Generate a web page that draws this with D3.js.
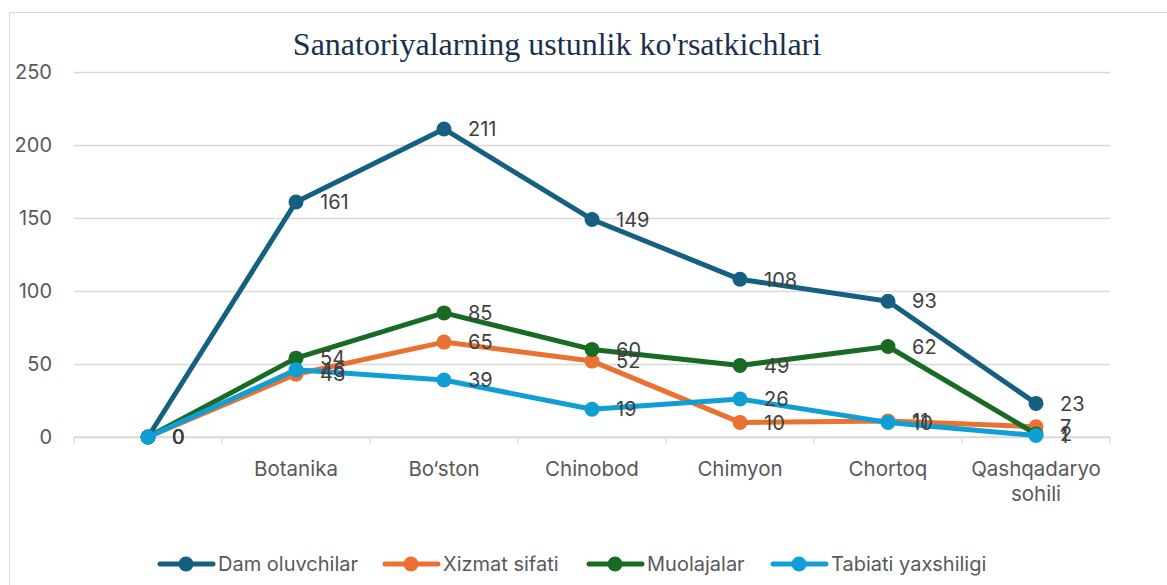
<!DOCTYPE html>
<html>
<head>
<meta charset="utf-8">
<script src="https://cdn.jsdelivr.net/npm/d3@7"></script>
<style>
  body { margin: 0; background: #fff; }
  text { font-family: Inter, "Noto Sans", sans-serif; }
</style>
</head>
<body>
<div id="chart"></div>
<script>
const categories = ["", "Botanika", "Bo‘ston", "Chinobod", "Chimyon", "Chortoq", "Qashqadaryo sohili"];
const seriesNames = ["Dam oluvchilar", "Xizmat sifati", "Muolajalar", "Tabiati yaxshiligi"];
const damOluvchilar = [0, 161, 211, 149, 108, 93, 23];
const xizmatSifati = [0, 43, 65, 52, 10, 11, 7];
const muolajalar = [0, 54, 85, 60, 49, 62, 2];
const tabiatiYaxshiligi = [0, 46, 39, 19, 26, 10, 1];
const yTicks = [0, 50, 100, 150, 200, 250];

const colours = ["#156082", "#E97132", "#196B24", "#0F9ED5"];
const allSeries = [damOluvchilar, xizmatSifati, muolajalar, tabiatiYaxshiligi];

const W = 1167, H = 585;
const margin = {top: 72, right: 57, bottom: 148, left: 74};
const width = W - margin.left - margin.right;
const height = H - margin.top - margin.bottom;

const svg = d3.select('#chart').append('svg')
    .attr('width', W)
    .attr('height', H);

// chart frame
svg.append('rect')
    .attr('x', 9.5).attr('y', 12.5)
    .attr('width', 1300).attr('height', 700)
    .attr('fill', 'none')
    .attr('stroke', '#d9d9d9');

svg.append('text')
    .attr('x', 557).attr('y', 55)
    .attr('text-anchor', 'middle')
    .style('font-family', '"Liberation Serif", "Times New Roman", serif')
    .style('font-size', '32px')
    .attr('fill', '#1a2f4e')
    .text("Sanatoriyalarning ustunlik ko'rsatkichlari");

const g = svg.append('g').attr('transform', 'translate(' + margin.left + ',' + margin.top + ')');

const x = d3.scaleBand().domain(d3.range(categories.length)).range([0, width]);
const y = d3.scaleLinear().domain([0, 250]).range([height, 0]);

// grid
g.append('g')
    .call(d3.axisLeft(y).tickValues(yTicks).tickSize(-width).tickFormat(''))
    .call(s => s.select('.domain').remove())
    .call(s => s.selectAll('line').attr('stroke', '#d9d9d9').attr('stroke-width', 1.3));

// y labels
g.append('g')
    .call(d3.axisLeft(y).tickValues(yTicks).tickSize(0).tickPadding(22))
    .call(s => s.select('.domain').remove())
    .call(s => s.selectAll('text').attr('fill', '#595959').style('font-size', '20px').style('font-family', 'Inter, sans-serif'));

// x axis
const xAxis = g.append('g').attr('transform', 'translate(0,' + height + ')');
xAxis.append('line')
    .attr('x1', 0).attr('x2', width)
    .attr('stroke', '#d9d9d9').attr('stroke-width', 1.3);
xAxis.selectAll('.tk')
    .data(d3.range(categories.length + 1))
    .join('line')
    .attr('x1', d => d * x.step()).attr('x2', d => d * x.step())
    .attr('y1', 0).attr('y2', 7)
    .attr('stroke', '#d9d9d9').attr('stroke-width', 1.3);
xAxis.selectAll('.lbl')
    .data(categories)
    .join('text')
    .attr('text-anchor', 'middle')
    .attr('fill', '#595959')
    .style('font-size', '20.5px')
    .attr('transform', (d, i) => 'translate(' + (x(i) + x.bandwidth() / 2) + ',39)')
    .each(function(d) {
        const parts = d.split(' ');
        d3.select(this).selectAll('tspan')
            .data(parts)
            .join('tspan')
            .attr('x', 0)
            .attr('dy', (p, j) => j === 0 ? 0 : 25)
            .text(p => p);
    });

const line = d3.line()
    .x((d, i) => x(i) + x.bandwidth() / 2)
    .y(d => y(d));

allSeries.forEach((s, k) => {
    g.append('path')
        .datum(s)
        .attr('d', line)
        .attr('fill', 'none')
        .attr('stroke', colours[k])
        .attr('stroke-width', 5)
        .attr('stroke-linejoin', 'round')
        .attr('stroke-linecap', 'round');
    g.selectAll('.pt' + k)
        .data(s)
        .join('circle')
        .attr('cx', (d, i) => x(i) + x.bandwidth() / 2)
        .attr('cy', d => y(d))
        .attr('r', 7.5)
        .attr('fill', colours[k]);
});

allSeries.forEach((s, k) => {
    g.selectAll('.lb' + k)
        .data(s)
        .join('text')
        .attr('x', (d, i) => x(i) + x.bandwidth() / 2 + 24)
        .attr('y', d => y(d))
        .attr('dy', '0.36em')
        .attr('fill', '#404040')
        .style('font-size', '20px')
        .text(d => d);
});

// legend
const legendX = [158, 383, 587, 771];
const legend = svg.append('g').attr('transform', 'translate(0,564)');
seriesNames.forEach((n, k) => {
    const lg = legend.append('g').attr('transform', 'translate(' + legendX[k] + ',0)');
    lg.append('line')
        .attr('x1', 2).attr('x2', 55)
        .attr('stroke', colours[k]).attr('stroke-width', 5)
        .attr('stroke-linecap', 'round');
    lg.append('circle').attr('cx', 28).attr('r', 7.5).attr('fill', colours[k]);
    lg.append('text')
        .attr('x', 60).attr('dy', '0.35em')
        .attr('fill', '#595959')
        .style('font-size', '20px')
        .text(n);
});
</script>
</body>
</html>
